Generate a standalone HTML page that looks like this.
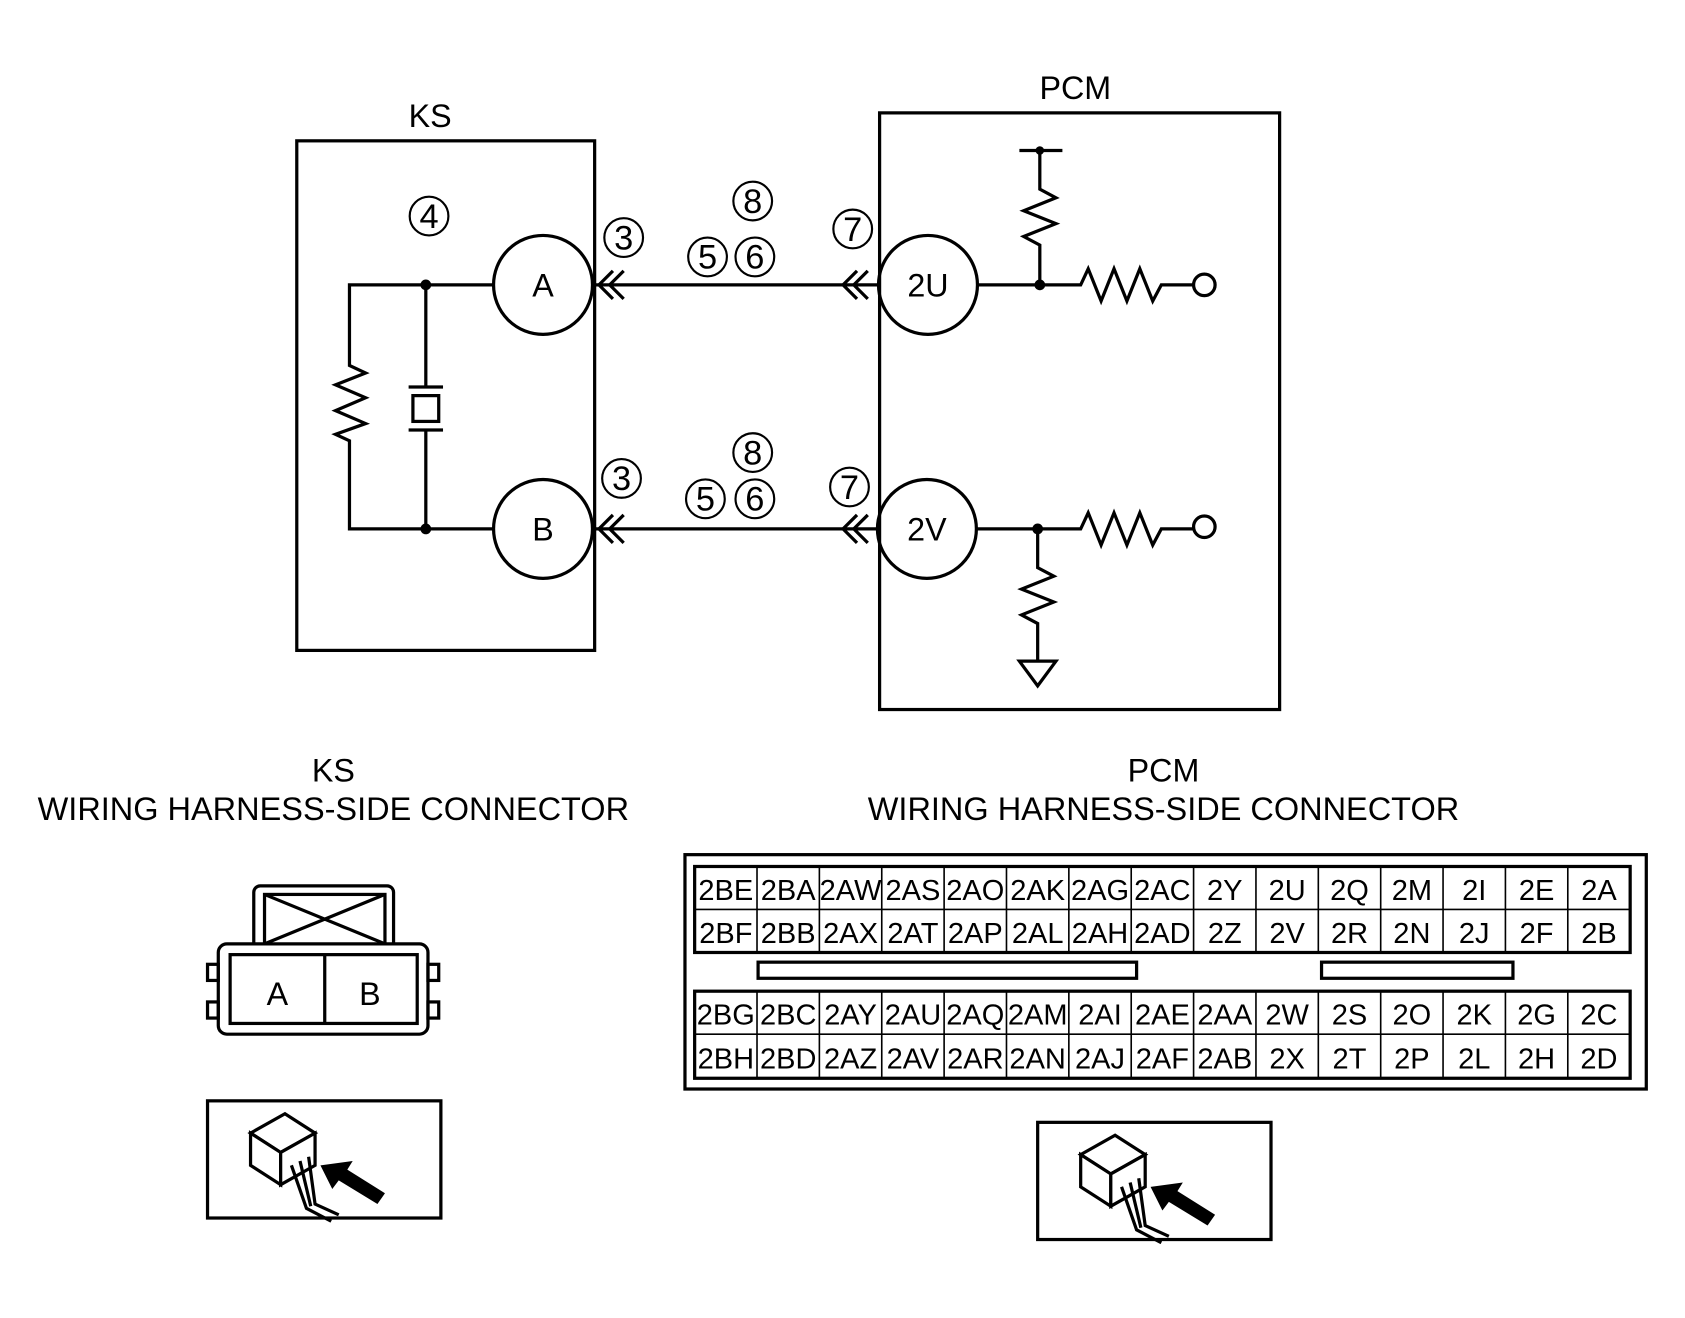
<!DOCTYPE html>
<html><head><meta charset="utf-8"><style>html,body{margin:0;padding:0;background:#fff}svg{display:block}</style></head>
<body>
<svg width="1685" height="1318" viewBox="0 0 1567 1226" preserveAspectRatio="none" xmlns="http://www.w3.org/2000/svg" font-family="Liberation Sans, sans-serif" fill="none" stroke="#000">
<defs>
<g id="icon">
<rect x="0" y="0" width="217" height="109" stroke-width="3"/>
<polygon points="40,30 72,12 100,30 68,48" stroke-width="3" fill="#fff"/>
<polygon points="40,30 68,48 68,78 40,60" stroke-width="3" fill="#fff"/>
<polygon points="68,48 100,30 100,60 68,78" stroke-width="3" fill="#fff"/>
<path d="M78,60 L92,100 L115,112 M86,56 L96,98 M94,52 L100,96 L122,106" stroke-width="3"/>
<polygon points="105,60 135,56 130,64 165,86 158,96 122,74 116,82" fill="#000" stroke="none"/>
</g>
</defs>
<g font-size="30" fill="#000" stroke="none" text-anchor="middle">
<text x="400" y="118">KS</text>
<text x="1000" y="92">PCM</text>
</g>
<g stroke-width="3">
<rect x="276" y="131" width="277" height="474"/>
<rect x="818" y="105" width="372" height="555"/>
<circle cx="505" cy="265" r="46"/><circle cx="505" cy="492" r="46"/>
<circle cx="863" cy="265" r="46"/><circle cx="862" cy="492" r="46"/>
<path d="M553,265 H818 M553,492 H818"/>
<path d="M570,252 L557,265 L570,278 M580,252 L567,265 L580,278 M797,252 L784,265 L797,278 M807,252 L794,265 L807,278"/>
<path d="M570,479 L557,492 L570,505 M580,479 L567,492 L580,505 M797,479 L784,492 L797,505 M807,479 L794,492 L807,505"/>
<path d="M459,265 H325 V340 L340,347 L312,358 L340,370 L312,382 L340,394 L312,404 L325,410 V492 H459"/>
<path d="M396,265 V360 M380,360 H412 M380,400 H412 M396,400 V492"/>
<rect x="384" y="368" width="24" height="24"/>
<path d="M909,265 H1005 L1012,250 L1024,280 L1036,250 L1048,280 L1060,250 L1072,280 L1080,265 H1110"/>
<circle cx="1120" cy="265" r="10"/>
<path d="M967,265 V228 L952,220 L982,208 L952,196 L982,184 L967,176 V140 M948,140 H988"/>
<path d="M909,492 H1005 L1012,477 L1024,507 L1036,477 L1048,507 L1060,477 L1072,507 L1080,492 H1110"/>
<circle cx="1120" cy="490" r="10"/>
<path d="M965,492 V528 L980,536 L950,548 L980,560 L950,572 L965,580 V615"/>
<polygon points="948,615 982,615 965,638"/>
</g>
<g fill="#000" stroke="none">
<circle cx="396" cy="265" r="5"/><circle cx="396" cy="492" r="5"/>
<circle cx="967" cy="265" r="5"/><circle cx="965" cy="492" r="5"/>
<circle cx="967" cy="140" r="4"/>
</g>
<g font-size="30" fill="#000" stroke="none" text-anchor="middle">
<text x="505" y="276">A</text><text x="505" y="503">B</text>
<text x="863" y="276">2U</text><text x="862" y="503">2V</text>
</g>
<g stroke-width="2">
<circle cx="399" cy="201" r="18"/><circle cx="580" cy="221" r="18"/><circle cx="700" cy="187" r="18"/>
<circle cx="658" cy="239" r="18"/><circle cx="702" cy="239" r="18"/><circle cx="793" cy="213" r="18"/>
<circle cx="700" cy="421" r="18"/><circle cx="578" cy="445" r="18"/><circle cx="656" cy="464" r="18"/>
<circle cx="702" cy="464" r="18"/><circle cx="790" cy="453" r="18"/>
</g>
<g font-size="32" fill="#000" stroke="none" text-anchor="middle">
<text x="399" y="212">4</text><text x="580" y="232">3</text><text x="700" y="198">8</text>
<text x="658" y="250">5</text><text x="702" y="250">6</text><text x="793" y="224">7</text>
<text x="700" y="432">8</text><text x="578" y="456">3</text><text x="656" y="475">5</text>
<text x="702" y="475">6</text><text x="790" y="464">7</text>
</g>
<g font-size="30" fill="#000" stroke="none" text-anchor="middle">
<text x="310" y="727">KS</text>
<text x="310" y="763" textLength="550" lengthAdjust="spacingAndGlyphs">WIRING HARNESS-SIDE CONNECTOR</text>
<text x="1082" y="727">PCM</text>
<text x="1082" y="763" textLength="550" lengthAdjust="spacingAndGlyphs">WIRING HARNESS-SIDE CONNECTOR</text>
</g>
<g stroke-width="3">
<rect x="236" y="824" width="130" height="60" rx="6"/>
<rect x="246" y="832" width="112" height="50"/>
<path d="M246,832 L358,878 M358,832 L246,878"/>
<rect x="203" y="878" width="195" height="84" rx="8" fill="#fff"/>
<rect x="214" y="888" width="174" height="64"/>
<path d="M302,888 V952"/>
<rect x="193" y="897" width="10" height="15"/><rect x="193" y="932" width="10" height="15"/>
<rect x="398" y="897" width="10" height="15"/><rect x="398" y="932" width="10" height="15"/>
</g>
<g font-size="30" fill="#000" stroke="none" text-anchor="middle">
<text x="258" y="935">A</text><text x="344" y="935">B</text>
</g>
<use href="#icon" x="193" y="1024"/>
<use href="#icon" x="965" y="1044"/>
<g stroke-width="3">
<rect x="637" y="795" width="894" height="218"/>
<rect x="646" y="806" width="870" height="80"/>
<rect x="646" y="922" width="870" height="81"/>
<rect x="705" y="895" width="352" height="15"/>
<rect x="1229" y="895" width="178" height="15"/>
</g>
<g stroke-width="1.5">
<path d="M646,846 H1516 M646,962 H1516"/>
<path d="M704,806V886M762,806V886M820,806V886M878,806V886M936,806V886M994,806V886M1052,806V886M1110,806V886M1168,806V886M1226,806V886M1284,806V886M1342,806V886M1400,806V886M1458,806V886"/>
<path d="M704,922V1003M762,922V1003M820,922V1003M878,922V1003M936,922V1003M994,922V1003M1052,922V1003M1110,922V1003M1168,922V1003M1226,922V1003M1284,922V1003M1342,922V1003M1400,922V1003M1458,922V1003"/>
</g>
<g font-size="27" fill="#000" stroke="none" text-anchor="middle">
<text y="837"><tspan x="675">2BE</tspan><tspan x="733">2BA</tspan><tspan x="791">2AW</tspan><tspan x="849">2AS</tspan><tspan x="907">2AO</tspan><tspan x="965">2AK</tspan><tspan x="1023">2AG</tspan><tspan x="1081">2AC</tspan><tspan x="1139">2Y</tspan><tspan x="1197">2U</tspan><tspan x="1255">2Q</tspan><tspan x="1313">2M</tspan><tspan x="1371">2I</tspan><tspan x="1429">2E</tspan><tspan x="1487">2A</tspan></text>
<text y="877"><tspan x="675">2BF</tspan><tspan x="733">2BB</tspan><tspan x="791">2AX</tspan><tspan x="849">2AT</tspan><tspan x="907">2AP</tspan><tspan x="965">2AL</tspan><tspan x="1023">2AH</tspan><tspan x="1081">2AD</tspan><tspan x="1139">2Z</tspan><tspan x="1197">2V</tspan><tspan x="1255">2R</tspan><tspan x="1313">2N</tspan><tspan x="1371">2J</tspan><tspan x="1429">2F</tspan><tspan x="1487">2B</tspan></text>
<text y="953"><tspan x="675">2BG</tspan><tspan x="733">2BC</tspan><tspan x="791">2AY</tspan><tspan x="849">2AU</tspan><tspan x="907">2AQ</tspan><tspan x="965">2AM</tspan><tspan x="1023">2AI</tspan><tspan x="1081">2AE</tspan><tspan x="1139">2AA</tspan><tspan x="1197">2W</tspan><tspan x="1255">2S</tspan><tspan x="1313">2O</tspan><tspan x="1371">2K</tspan><tspan x="1429">2G</tspan><tspan x="1487">2C</tspan></text>
<text y="994"><tspan x="675">2BH</tspan><tspan x="733">2BD</tspan><tspan x="791">2AZ</tspan><tspan x="849">2AV</tspan><tspan x="907">2AR</tspan><tspan x="965">2AN</tspan><tspan x="1023">2AJ</tspan><tspan x="1081">2AF</tspan><tspan x="1139">2AB</tspan><tspan x="1197">2X</tspan><tspan x="1255">2T</tspan><tspan x="1313">2P</tspan><tspan x="1371">2L</tspan><tspan x="1429">2H</tspan><tspan x="1487">2D</tspan></text>
</g>
</svg>
</body></html>
